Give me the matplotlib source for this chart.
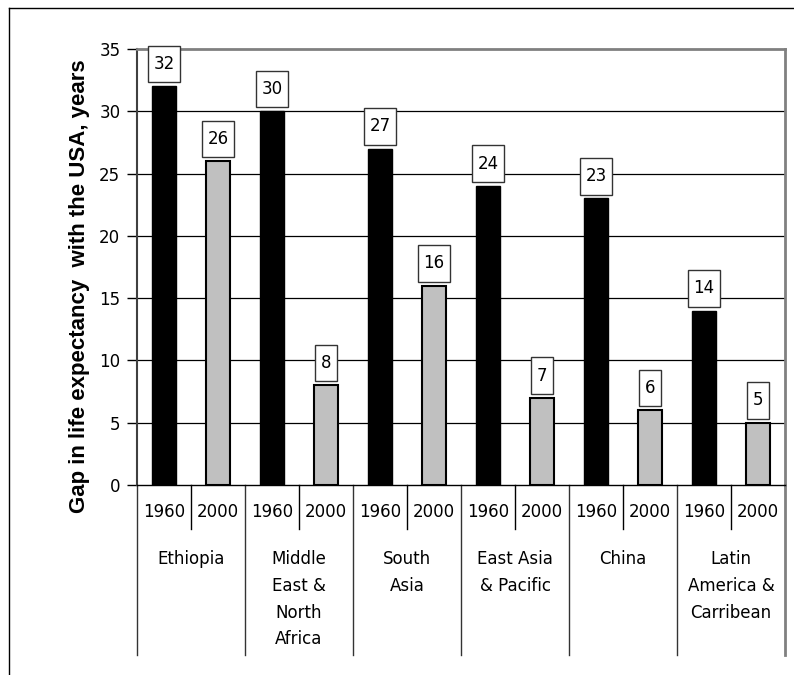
import matplotlib
matplotlib.use("Agg")
import matplotlib.pyplot as plt
from matplotlib.lines import Line2D
from matplotlib.path import Path

plt.rcParams['font.family'] = ['DejaVu Sans']

regions = ['Ethiopia', 'Middle\nEast &\nNorth\nAfrica', 'South\nAsia',
           'East Asia\n& Pacific', 'China', 'Latin\nAmerica &\nCarribean']
years = ['1960', '2000']
gap_1960 = [32, 30, 27, 24, 23, 14]
gap_2000 = [26, 8, 16, 7, 6, 5]
y_ticks = [0, 5, 10, 15, 20, 25, 30, 35]

W, H = 794, 675
FS = 12


def tall_box(x0, y0, width, height, mutation_size):
    # label boxes in the original are taller than wide
    px, py = 0.32 * mutation_size, 0.56 * mutation_size
    x0, y0 = x0 - px, y0 - py
    x1, y1 = x0 + width + 2 * px, y0 + height + 2 * py
    return Path([(x0, y0), (x1, y0), (x1, y1), (x0, y1), (x0, y0)], closed=True)


fig = plt.figure(figsize=(W / 100, H / 100), dpi=100)
ax = fig.add_axes([137 / W, 1 - 485 / H, (785 - 137) / W, (485 - 49) / H])

bar_w = 0.43
x60 = [2 * i for i in range(len(regions))]
x00 = [2 * i + 1 for i in range(len(regions))]
ax.bar(x60, gap_1960, width=bar_w, color='black', edgecolor='black', linewidth=1, zorder=3)
ax.bar(x00, gap_2000, width=bar_w, color='#c0c0c0', edgecolor='black', linewidth=1.5, zorder=3)

# value labels in boxes
for xs, vals in ((x60, gap_1960), (x00, gap_2000)):
    for x, v in zip(xs, vals):
        ax.annotate(str(v), (x, v), xytext=(0, 16), textcoords='offset points',
                    ha='center', va='center', fontsize=FS, zorder=5,
                    bbox=dict(boxstyle=tall_box, fc='white', ec='#333333', lw=1))

ax.set_xlim(-0.5, 11.5)
ax.set_ylim(0, 35)
ax.set_yticks(y_ticks)
ax.tick_params(axis='y', labelsize=FS, length=7, width=1, direction='out', pad=5)
ax.set_xticks([])
for y in y_ticks[1:-1]:
    ax.axhline(y, color='black', lw=0.9, zorder=1)

ax.spines['top'].set_color('#808080')
ax.spines['top'].set_linewidth(2)
ax.spines['right'].set_color('#808080')
ax.spines['right'].set_linewidth(2)
ax.spines['left'].set_color('#404040')
ax.spines['left'].set_linewidth(1.5)
ax.spines['bottom'].set_color('black')
ax.spines['bottom'].set_linewidth(1)

ax.set_ylabel('Gap in life expectancy  with the USA, years', fontsize=16,
              fontweight='bold', family='Liberation Sans', va='center', ha='center')
ax.yaxis.set_label_coords((80 - 137) / 648, (485 - 286) / 436)

# category table below the axis
tr = ax.get_xaxis_transform()
year_sep_y = -44 / 436
group_sep_y = -170 / 436
for i in range(len(regions)):
    ax.add_line(Line2D([2 * i + 0.5] * 2, [0, year_sep_y], transform=tr,
                       color='black', lw=1, clip_on=False))
for i in range(len(regions) + 1):
    ax.add_line(Line2D([2 * i - 0.5] * 2, [0, group_sep_y], transform=tr,
                       color='#333333' if i < len(regions) else '#808080',
                       lw=1 if i < len(regions) else 2, clip_on=False))
for x in x60:
    ax.text(x, -27 / 436, years[0], transform=tr, ha='center', va='center', fontsize=FS)
for x in x00:
    ax.text(x, -27 / 436, years[1], transform=tr, ha='center', va='center', fontsize=FS)
for i, name in enumerate(regions):
    ax.text(2 * i + 0.5, -65 / 436, name, transform=tr, ha='center', va='top',
            fontsize=FS, linespacing=1.63)

# outer frame (top and left edges)
fig.add_artist(Line2D([9 / W, 1], [1 - 8 / H, 1 - 8 / H], transform=fig.transFigure,
                      color='black', lw=1))
fig.add_artist(Line2D([9 / W, 9 / W], [0, 1 - 8 / H], transform=fig.transFigure,
                      color='black', lw=1))

fig.savefig('out.png', dpi=100)
